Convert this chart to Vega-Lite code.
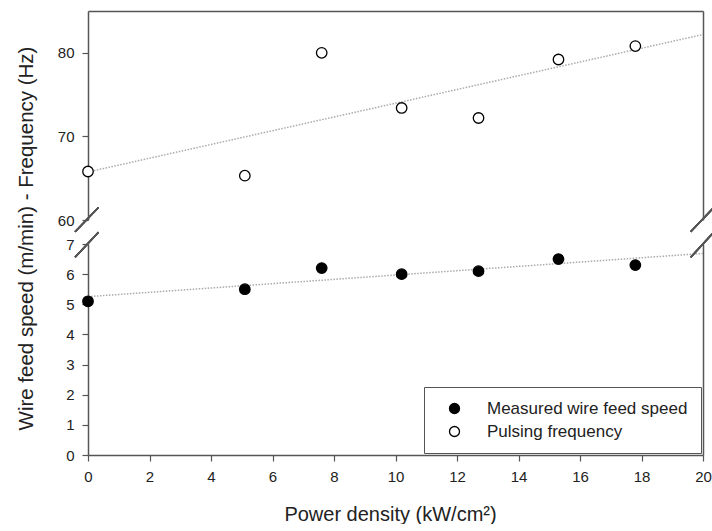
{
  "$schema": "https://vega.github.io/schema/vega-lite/v6.json",
  "autosize": {"type": "pad"},
  "padding": {"left": 15, "top": 11, "right": 0, "bottom": 0},
  "background": "white",
  "bounds": "flush",
  "spacing": 24,
  "config": {
    "font": "Liberation Sans",
    "view": {"stroke": null},
    "axis": {
      "grid": false,
      "domainColor": "#555",
      "domainWidth": 1.5,
      "tickColor": "#555",
      "tickWidth": 1.2,
      "tickSize": 6,
      "labelFont": "Liberation Sans",
      "labelFontSize": 15,
      "labelColor": "#222",
      "labelPadding": 8,
      "labelFlush": false,
      "titleFont": "Liberation Sans",
      "titleFontSize": 20,
      "titleFontWeight": "normal",
      "titleColor": "#222"
    }
  },
  "datasets": {
    "points": [
      {"power": 0, "value": 5.1, "series": "Measured wire feed speed"},
      {"power": 5.1, "value": 5.5, "series": "Measured wire feed speed"},
      {"power": 7.6, "value": 6.2, "series": "Measured wire feed speed"},
      {"power": 10.2, "value": 6.0, "series": "Measured wire feed speed"},
      {"power": 12.7, "value": 6.1, "series": "Measured wire feed speed"},
      {"power": 15.3, "value": 6.5, "series": "Measured wire feed speed"},
      {"power": 17.8, "value": 6.3, "series": "Measured wire feed speed"},
      {"power": 0, "value": 65.8, "series": "Pulsing frequency"},
      {"power": 5.1, "value": 65.3, "series": "Pulsing frequency"},
      {"power": 7.6, "value": 80.0, "series": "Pulsing frequency"},
      {"power": 10.2, "value": 73.4, "series": "Pulsing frequency"},
      {"power": 12.7, "value": 72.2, "series": "Pulsing frequency"},
      {"power": 15.3, "value": 79.2, "series": "Pulsing frequency"},
      {"power": 17.8, "value": 80.8, "series": "Pulsing frequency"}
    ]
  },
  "resolve": {"scale": {"x": "independent", "y": "independent"}},
  "vconcat": [
    {
      "width": 615,
      "height": 209,
      "data": {"name": "points"},
      "transform": [{"filter": "datum.series === 'Pulsing frequency'"}],
      "resolve": {"axis": {"y": "independent"}},
      "layer": [
        {
          "transform": [{"regression": "value", "on": "power", "extent": [0, 20]}],
          "mark": {"type": "line", "color": "#aaa", "strokeWidth": 1.5, "strokeDash": [1.5, 1.5]},
          "encoding": {
            "x": {"field": "power", "type": "quantitative", "scale": {"domain": [0, 20], "nice": false},
                  "axis": {"orient": "top", "labels": false, "ticks": false, "title": null}},
            "y": {"field": "value", "type": "quantitative", "scale": {"domain": [60, 85], "nice": false, "zero": false},
                  "axis": {"orient": "right", "labels": false, "ticks": false, "title": null}}
          }
        },
        {
          "mark": {"type": "point", "shape": "circle", "size": 110, "filled": true, "fill": "white", "stroke": "black", "strokeWidth": 1.3, "opacity": 1},
          "encoding": {
            "x": {"field": "power", "type": "quantitative"},
            "y": {"field": "value", "type": "quantitative",
                  "axis": {"orient": "left", "values": [60, 70, 80], "title": null}}
          }
        },
        {
          "mark": {"type": "rule", "color": "#555", "strokeWidth": 1.5},
          "encoding": {
            "x": {"datum": -0.42, "type": "quantitative"},
            "x2": {"datum": 0.34},
            "y": {"datum": 58.6, "type": "quantitative", "axis": null},
            "y2": {"datum": 61.5}
          }
        },
        {
          "mark": {"type": "rule", "color": "#555", "strokeWidth": 1.5},
          "encoding": {
            "x": {"datum": 19.6, "type": "quantitative"},
            "x2": {"datum": 20.35},
            "y": {"datum": 58.6, "type": "quantitative", "axis": null},
            "y2": {"datum": 61.5}
          }
        }
      ]
    },
    {
      "width": 615,
      "height": 211,
      "data": {"name": "points"},
      "transform": [{"filter": "datum.series === 'Measured wire feed speed'"}],
      "resolve": {"axis": {"y": "independent"}},
      "layer": [
        {
          "transform": [{"regression": "value", "on": "power", "extent": [0, 20]}],
          "mark": {"type": "line", "color": "#aaa", "strokeWidth": 1.5, "strokeDash": [1.5, 1.5]},
          "encoding": {
            "x": {"field": "power", "type": "quantitative", "scale": {"domain": [0, 20], "nice": false},
                  "axis": {"orient": "bottom", "values": [0, 2, 4, 6, 8, 10, 12, 14, 16, 18, 20],
                           "title": "Power density (kW/cm²)", "titleY": 59, "titleX": 302, "titleBaseline": "middle"}},
            "y": {"field": "value", "type": "quantitative", "scale": {"domain": [0, 7], "nice": false},
                  "axis": {"orient": "right", "labels": false, "ticks": false, "title": null}}
          }
        },
        {
          "mark": {"type": "point", "shape": "circle", "size": 110, "filled": true, "stroke": "black", "strokeWidth": 1.3, "opacity": 1},
          "encoding": {
            "x": {"field": "power", "type": "quantitative"},
            "y": {"field": "value", "type": "quantitative",
                  "axis": {"orient": "left", "values": [0, 1, 2, 3, 4, 5, 6, 7],
                           "title": "Wire feed speed (m/min) - Frequency (Hz)",
                           "titleX": -62, "titleY": -6, "titleFontSize": 20.5, "titleAlign": "center", "titleBaseline": "middle", "titleAngle": 270}},
            "fill": {"field": "series", "type": "nominal",
                     "scale": {"domain": ["Measured wire feed speed", "Pulsing frequency"], "range": ["black", "white"]},
                     "legend": {"orient": "none", "legendX": 336, "legendY": 376, "title": null,
                                "strokeColor": "#555", "fillColor": "white", "padding": 13,
                                "symbolOffset": 9, "labelOffset": 24, "labelFontSize": 17,
                                "labelFont": "Liberation Sans", "labelColor": "#222",
                                "symbolType": "circle", "symbolSize": 100, "symbolStrokeColor": "black",
                                "symbolStrokeWidth": 1.3, "rowPadding": 5, "labelLimit": 400}}
          }
        },
        {
          "mark": {"type": "rule", "color": "#555", "strokeWidth": 1.5},
          "encoding": {
            "x": {"datum": -0.42, "type": "quantitative"},
            "x2": {"datum": 0.34},
            "y": {"datum": 6.56, "type": "quantitative", "axis": null},
            "y2": {"datum": 7.39}
          }
        },
        {
          "mark": {"type": "rule", "color": "#555", "strokeWidth": 1.5},
          "encoding": {
            "x": {"datum": 19.6, "type": "quantitative"},
            "x2": {"datum": 20.35},
            "y": {"datum": 6.56, "type": "quantitative", "axis": null},
            "y2": {"datum": 7.39}
          }
        }
      ]
    }
  ]
}
